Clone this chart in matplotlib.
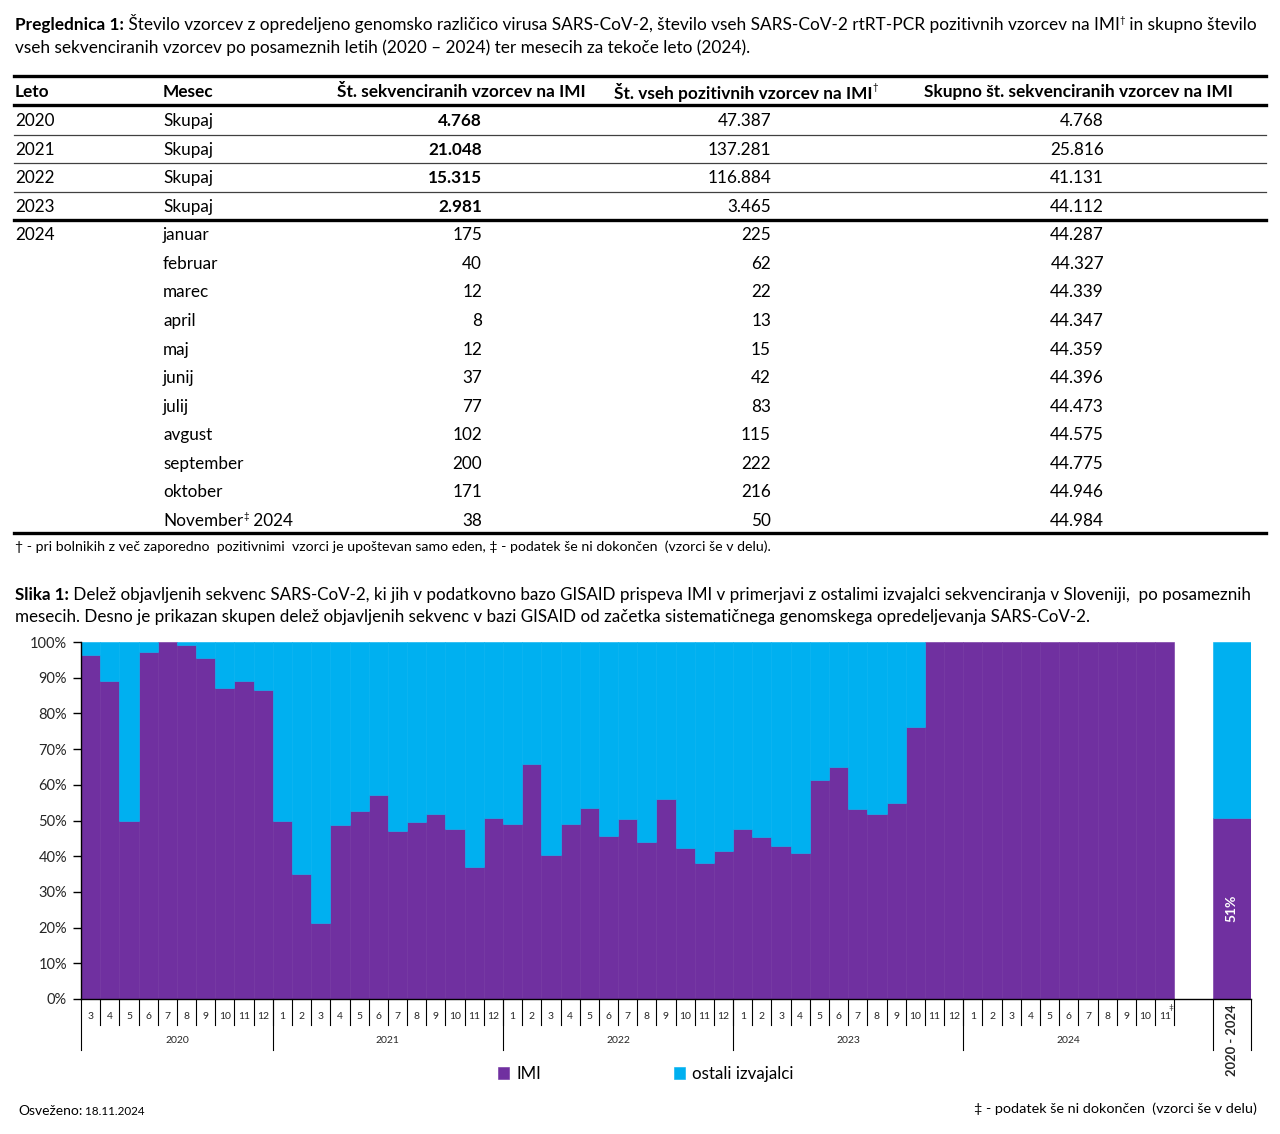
#!/usr/bin/env python3
import matplotlib
matplotlib.use('Agg')
import matplotlib.pyplot as plt

plt.rcParams['font.family'] = ['Lato', 'DejaVu Sans']

PURPLE = '#7030A0'
BLUE = '#00B0F0'
TXT = '#000000'

# table data
leto = ['2020', '2021', '2022', '2023', '2024'] + [''] * 10
mesec = ['Skupaj', 'Skupaj', 'Skupaj', 'Skupaj', 'januar', 'februar', 'marec',
         'april', 'maj', 'junij', 'julij', 'avgust', 'september', 'oktober',
         'November']
n_imi = ['4.768', '21.048', '15.315', '2.981', '175', '40', '12', '8', '12',
         '37', '77', '102', '200', '171', '38']
n_pos = ['47.387', '137.281', '116.884', '3.465', '225', '62', '22', '13',
         '15', '42', '83', '115', '222', '216', '50']
n_cum = ['4.768', '25.816', '41.131', '44.112', '44.287', '44.327', '44.339',
         '44.347', '44.359', '44.396', '44.473', '44.575', '44.775', '44.946',
         '44.984']

# chart data: share of IMI sequences (%) per month
years = ['2020', '2021', '2022', '2023', '2024']
months = {
    '2020': ['3', '4', '5', '6', '7', '8', '9', '10', '11', '12'],
    '2021': ['1', '2', '3', '4', '5', '6', '7', '8', '9', '10', '11', '12'],
    '2022': ['1', '2', '3', '4', '5', '6', '7', '8', '9', '10', '11', '12'],
    '2023': ['1', '2', '3', '4', '5', '6', '7', '8', '9', '10', '11', '12'],
    '2024': ['1', '2', '3', '4', '5', '6', '7', '8', '9', '10', '11'],
}
imi_2020 = [96.4, 89.1, 49.9, 97.2, 100.0, 99.2, 95.5, 87.1, 89.1, 86.5]
imi_2021 = [49.9, 34.9, 21.2, 48.6, 52.7, 57.2, 47.1, 49.5, 51.8, 47.6, 37.0, 50.6]
imi_2022 = [49.0, 65.9, 40.2, 49.0, 53.5, 45.7, 50.4, 44.0, 56.0, 42.3, 38.1, 41.4]
imi_2023 = [47.6, 45.4, 42.8, 40.9, 61.4, 65.1, 53.2, 51.8, 55.0, 76.1, 100.0, 100.0]
imi_2024 = [100.0, 100.0, 100.0, 100.0, 100.0, 100.0, 100.0, 100.0, 100.0, 100.0, 100.0]
imi_total = 50.8
total_label = '2020 - 2024'


def rich(ax, x, y, parts, **kw):
    # draw a line made of several styled pieces, each one after the other
    s0, st0 = parts[0]
    base = ax.text(x, y, s0, **st0, **kw)
    prev = base
    for s, st in parts[1:]:
        st = dict(st)
        sup = st.pop('sup', False)
        prev = ax.annotate(s, xy=(1, 0.5 if sup else 0),
                           xycoords=(prev, base), va='bottom', ha='left', **st)
    return base


fig = plt.figure(figsize=(12.8, 11.34), dpi=100)
bg = fig.add_axes([0, 0, 1, 1])
bg.set_xlim(0, 1280)
bg.set_ylim(1134, 0)
bg.axis('off')

R = dict(fontsize=12.4, color=TXT)
B = dict(fontsize=12.4, color=TXT, fontweight='bold')
SUP = dict(fontsize=7, color=TXT, sup=True)

# title of the table
rich(bg, 15, 25, [
    ('Preglednica 1:', B),
    (' Število vzorcev z opredeljeno genomsko različico virusa SARS-CoV-2, '
     'število vseh SARS-CoV-2 rtRT-PCR pozitivnih vzorcev na IMI', R),
    ('†', SUP),
    (' in skupno število', R)], va='center')
bg.text(15, 48, 'vseh sekvenciranih vzorcev po posameznih letih (2020 – 2024) '
        'ter mesecih za tekoče leto (2024).', va='center', **R)

# table
HB = dict(fontsize=12.4, color=TXT, fontweight='bold')
bg.text(15, 92, 'Leto', va='center', **HB)
bg.text(163, 92, 'Mesec', va='center', **HB)
bg.text(337, 92, 'Št. sekvenciranih vzorcev na IMI', va='center', **HB)
rich(bg, 614, 92, [('Št. vseh pozitivnih vzorcev na IMI', HB),
                   ('†', dict(fontsize=7, color=TXT, sup=True))], va='center')
bg.text(924, 92, 'Skupno št. sekvenciranih vzorcev na IMI', va='center', **HB)

bg.plot([14, 1266], [76, 76], color='black', lw=2.4)
bg.plot([14, 1266], [105, 105], color='black', lw=2.4)
for yl in [135, 163, 192]:
    bg.plot([14, 1266], [yl, yl], color='#404040', lw=0.9)
bg.plot([14, 1266], [220, 220], color='black', lw=2.4)
bg.plot([14, 1266], [533, 533], color='black', lw=2.4)

CELL = dict(fontsize=12.3, color=TXT)
for i in range(len(mesec)):
    yc = 121 + i * 28.57
    bg.text(15, yc, leto[i], va='center', **CELL)
    if i == len(mesec) - 1:
        rich(bg, 163, yc, [(mesec[i], CELL),
                           ('‡', dict(fontsize=7, color=TXT, sup=True)),
                           (' 2024', CELL)], va='center')
    else:
        bg.text(163, yc, mesec[i], va='center', **CELL)
    bg.text(482, yc, n_imi[i], va='center', ha='right',
            fontweight='bold' if i < 4 else 'normal', **CELL)
    bg.text(771, yc, n_pos[i], va='center', ha='right', **CELL)
    bg.text(1104, yc, n_cum[i], va='center', ha='right', **CELL)

bg.text(15, 547, '† - pri bolnikih z več zaporedno  pozitivnimi  vzorci je '
        'upoštevan samo eden, ‡ - podatek še ni dokončen  (vzorci še v delu).',
        va='center', fontsize=10.2, color=TXT)

# figure caption
RC = dict(fontsize=12.25, color=TXT)
BC = dict(fontsize=12.25, color=TXT, fontweight='bold')
rich(bg, 15, 595, [
    ('Slika 1:', BC),
    (' Delež objavljenih sekvenc SARS-CoV-2, ki jih v podatkovno bazo GISAID '
     'prispeva IMI v primerjavi z ostalimi izvajalci sekvenciranja v Sloveniji,  '
     'po posameznih', RC)], va='center')
bg.text(15, 617, 'mesecih. Desno je prikazan skupen delež objavljenih sekvenc v '
        'bazi GISAID od začetka sistematičnega genomskega opredeljevanja '
        'SARS-CoV-2.', va='center', **RC)

# chart
ax = fig.add_axes([81 / 1280, 1 - 999 / 1134, 1170 / 1280, 357 / 1134])
imi_by_year = {'2020': imi_2020, '2021': imi_2021, '2022': imi_2022,
               '2023': imi_2023, '2024': imi_2024}

xs, imi, lab, year_bounds = [], [], [], []
pos = 0
for yr in years:
    start = pos
    for m, v in zip(months[yr], imi_by_year[yr]):
        xs.append(pos)
        imi.append(v)
        lab.append(m)
        pos += 1
    year_bounds.append((yr, start - 0.5, pos - 0.5))
other = [100 - v for v in imi]

b1 = ax.bar(xs, imi, width=1.0, color=PURPLE, edgecolor=PURPLE, lw=0.4)
b2 = ax.bar(xs, other, bottom=imi, width=1.0, color=BLUE,
            edgecolor=[BLUE if v > 0 else 'none' for v in other], lw=0.4)

x_tot = pos + 2.5
ax.bar([x_tot], [imi_total], width=2.0, color=PURPLE, edgecolor=PURPLE, lw=0.4)
ax.bar([x_tot], [100 - imi_total], bottom=[imi_total], width=2.0,
       color=BLUE, edgecolor=BLUE, lw=0.4)
ax.text(x_tot, imi_total / 2, '%d%%' % round(imi_total), rotation=90,
        ha='center', va='center', color='white', fontweight='bold', fontsize=10)

ax.set_xlim(-0.5, x_tot + 1)
ax.set_ylim(0, 100)
ax.set_yticks(range(0, 101, 10))
ax.set_yticklabels(['%d%%' % v for v in range(0, 101, 10)])
ax.tick_params(axis='y', length=6, width=1, labelsize=10.5, colors='black',
               labelcolor='#262626', pad=4)
ax.set_xticks([])
for s in ['top', 'right']:
    ax.spines[s].set_visible(False)
ax.spines['left'].set_linewidth(1)
ax.spines['bottom'].set_linewidth(1)
ax.spines['bottom'].set_bounds(-0.5, x_tot + 1)

tr = ax.get_xaxis_transform()
MON_D = -0.073
YR_D = -0.143
for x, m in zip(xs, lab):
    ax.text(x, -0.05, m, transform=tr, ha='center', va='center',
            fontsize=7.5, color='#262626')
    ax.plot([x + 0.5, x + 0.5], [0, MON_D], transform=tr, color='black',
            lw=0.8, clip_on=False)
for yr, x0, x1 in year_bounds:
    ax.plot([x0, x0], [0, YR_D], transform=tr, color='black', lw=0.8,
            clip_on=False)
    ax.text((x0 + x1) / 2, -0.117, yr, transform=tr, ha='center', va='center',
            fontsize=7.5, color='#262626')
ax.text(xs[-1] + 0.35, -0.025, '‡', transform=tr, ha='center', va='center',
        fontsize=6, color='#262626')
for xb in [x_tot - 1, x_tot + 1]:
    ax.plot([xb, xb], [0, YR_D], transform=tr, color='black', lw=0.8,
            clip_on=False)
ax.text(x_tot, -0.115, total_label, transform=tr, rotation=90, ha='center',
        va='center', fontsize=9.3, fontweight='bold', color='#262626')

ax.legend([b1, b2], ['IMI', 'ostali izvajalci'], loc='center',
          bbox_to_anchor=(646 / 1280, 1 - 1074 / 1134),
          bbox_transform=fig.transFigure, ncol=2, frameon=False,
          handlelength=0.65, handleheight=0.65, handletextpad=0.45,
          columnspacing=7.8, fontsize=12.2)

# bottom notes
rich(bg, 18, 1111, [('Osveženo:', dict(fontsize=10, color=TXT)),
                    (' 18.11.2024', dict(fontsize=8.4, color=TXT))], va='center')
bg.text(1257, 1109, '‡ - podatek še ni dokončen  (vzorci še v delu)',
        ha='right', va='center', fontsize=10.4, color=TXT)

fig.savefig('out.png', dpi=100, facecolor='white')
